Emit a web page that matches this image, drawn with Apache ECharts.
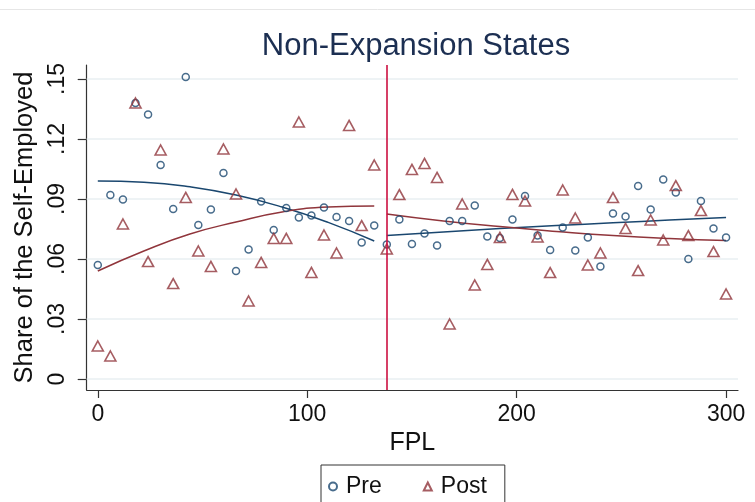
<!DOCTYPE html>
<html>
<head>
<meta charset="utf-8">
<script src="https://cdn.jsdelivr.net/npm/echarts@6/dist/echarts.min.js"></script>
<style>
  html, body { margin: 0; padding: 0; background: #ffffff; }
  #chart { width: 755px; height: 502px; }
</style>
</head>
<body>
<div id="chart"></div>
<script>
// FPL bins (percent of federal poverty level)
const fplBins = [0, 6, 12, 18, 24, 30, 36, 42, 48, 54, 60, 66, 72, 78, 84, 90, 96, 102, 108, 114,
  120, 126, 132, 138, 144, 150, 156, 162, 168, 174, 180, 186, 192, 198, 204, 210, 216, 222, 228,
  234, 240, 246, 252, 258, 264, 270, 276, 282, 288, 294, 300];

// Share of the self-employed, before expansion
const preShare = [0.057, 0.092, 0.0898, 0.138, 0.1323, 0.107, 0.085, 0.151, 0.077, 0.0847,
  0.103, 0.054, 0.0648, 0.0887, 0.0745, 0.0855, 0.0807, 0.0818, 0.0857, 0.081,
  0.079, 0.0683, 0.0767, 0.0673, 0.0797, 0.0675, 0.0728, 0.0667, 0.079, 0.079,
  0.0867, 0.0712, 0.0705, 0.0798, 0.0915, 0.0718, 0.0645, 0.0758, 0.0642, 0.0707,
  0.0562, 0.0828, 0.0812, 0.0965, 0.0848, 0.0997, 0.0932, 0.06, 0.089, 0.0753, 0.0707];

// Share of the self-employed, after expansion
const postShare = [0.0165, 0.0115, 0.0775, 0.138, 0.0587, 0.1145, 0.0477, 0.0908, 0.064, 0.0563,
  0.115, 0.0925, 0.039, 0.0583, 0.0703, 0.0703, 0.1285, 0.0533, 0.072, 0.063,
  0.1268, 0.0767, 0.107, 0.065, 0.0922, 0.1048, 0.1078, 0.1008, 0.0275, 0.0875,
  0.047, 0.0573, 0.0708, 0.0923, 0.089, 0.071, 0.0532, 0.0945, 0.0805, 0.057,
  0.063, 0.0907, 0.0753, 0.0542, 0.0795, 0.0695, 0.0967, 0.0717, 0.0842, 0.0637, 0.0425];

// Quadratic fit curves, sampled on each side of the 138% cutoff
const fitXLeft = [0, 22, 44, 66, 88, 110, 132];
const preFitLeft = [0.099, 0.0984, 0.0961, 0.092, 0.086, 0.0783, 0.069];
const postFitLeft = [0.054, 0.064, 0.0725, 0.0785, 0.0835, 0.086, 0.0865];
const fitXRight = [138, 165, 192, 219, 246, 273, 300];
const preFitRight = [0.0717, 0.0735, 0.0752, 0.0767, 0.0781, 0.0795, 0.0808];
const postFitRight = [0.0825, 0.079, 0.0762, 0.0738, 0.0717, 0.0702, 0.0692];

const cutoff = 138;
const xTicks = [0, 100, 200, 300];
const yTicks = [0, 0.03, 0.06, 0.09, 0.12, 0.15];

const BLUE = '#1a476f';
const MAROON = '#90353b';
const FONT = '"Liberation Sans", Arial, Helvetica, sans-serif';

const pairs = (xs, ys) => xs.map((x, i) => [x, ys[i]]);
const fmtY = v => (v === 0 ? '0' : v.toFixed(2).replace(/^0/, ''));

const chart = echarts.init(document.getElementById('chart'), null, { renderer: 'canvas' });

chart.setOption({
  backgroundColor: '#ffffff',
  animation: false,
  textStyle: { fontFamily: FONT },
  title: {
    text: 'Non-Expansion States',
    left: 411,
    textAlign: 'center',
    top: 26,
    textStyle: { fontFamily: FONT, fontSize: 31, fontWeight: 'normal', color: '#1c2f52' }
  },
  graphic: [{
    type: 'line',
    shape: { x1: 0, y1: 9.5, x2: 755, y2: 9.5 },
    style: { stroke: '#e6e6e6', lineWidth: 1 },
    silent: true
  }],
  legend: {
    data: ['Pre', 'Post'],
    left: 321,
    top: 465,
    orient: 'horizontal',
    padding: [10, 18, 14, 7],
    itemWidth: 8,
    itemHeight: 8,
    itemGap: 41,
    borderColor: '#333333',
    borderWidth: 1,
    textStyle: { fontFamily: FONT, fontSize: 23, color: '#111111', padding: [0, 0, 0, 4] }
  },
  grid: { left: 86.7, right: 17, top: 65, bottom: 112, containLabel: false },
  xAxis: {
    type: 'value',
    min: -5.3,
    max: 305.7,
    name: 'FPL',
    nameLocation: 'middle',
    nameGap: 37,
    nameTextStyle: { fontFamily: FONT, fontSize: 25, color: '#111111' },
    axisLine: { show: true, onZero: false, lineStyle: { color: '#333333', width: 1.2 } },
    axisTick: { show: true, length: 8, customValues: xTicks, lineStyle: { color: '#333333', width: 1.2 } },
    axisLabel: { customValues: xTicks, fontFamily: FONT, fontSize: 23, color: '#111111', margin: 13 },
    splitLine: { show: false }
  },
  yAxis: {
    type: 'value',
    min: -0.0055,
    max: 0.157,
    name: 'Share of the Self-Employed',
    nameLocation: 'middle',
    nameGap: 47,
    nameTextStyle: { fontFamily: FONT, fontSize: 25.5, color: '#111111' },
    axisLine: { show: true, onZero: false, lineStyle: { color: '#333333', width: 1.2 } },
    axisTick: { show: true, length: 9, customValues: yTicks, lineStyle: { color: '#333333', width: 1.2 } },
    axisLabel: {
      customValues: yTicks,
      rotate: 90,
      fontFamily: FONT,
      fontSize: 23,
      color: '#111111',
      margin: 18,
      formatter: fmtY
    },
    splitLine: { show: false }
  },
  series: [
    {
      // horizontal gridlines at each y tick
      name: 'guides',
      type: 'line',
      data: [],
      silent: true,
      markLine: {
        silent: true,
        symbol: 'none',
        z: 1,
        label: { show: false },
        lineStyle: { type: 'solid', color: '#e8eff2', width: 1.6 },
        data: yTicks.map(v => ({ yAxis: v }))
      }
    },
    {
      name: 'Pre',
      type: 'scatter',
      symbol: 'circle',
      symbolSize: 7,
      z: 4,
      itemStyle: { color: 'rgba(255,255,255,0)', borderColor: BLUE, borderWidth: 1.5 },
      data: pairs(fplBins, preShare)
    },
    {
      name: 'Post',
      type: 'scatter',
      symbol: 'triangle',
      symbolSize: [11, 10],
      z: 4,
      itemStyle: { color: 'rgba(255,255,255,0)', borderColor: MAROON, borderWidth: 1.6 },
      data: pairs(fplBins, postShare)
    },
    {
      name: 'preFitLeft',
      type: 'line',
      smooth: true,
      showSymbol: false,
      z: 3,
      lineStyle: { color: BLUE, width: 1.5 },
      data: pairs(fitXLeft, preFitLeft)
    },
    {
      name: 'postFitLeft',
      type: 'line',
      smooth: true,
      showSymbol: false,
      z: 3,
      lineStyle: { color: MAROON, width: 1.5 },
      data: pairs(fitXLeft, postFitLeft)
    },
    {
      name: 'preFitRight',
      type: 'line',
      smooth: true,
      showSymbol: false,
      z: 3,
      lineStyle: { color: BLUE, width: 1.5 },
      data: pairs(fitXRight, preFitRight)
    },
    {
      name: 'postFitRight',
      type: 'line',
      smooth: true,
      showSymbol: false,
      z: 3,
      lineStyle: { color: MAROON, width: 1.5 },
      data: pairs(fitXRight, postFitRight),
      markLine: {
        // vertical line at the 138% FPL cutoff
        silent: true,
        symbol: 'none',
        z: 5,
        label: { show: false },
        lineStyle: { type: 'solid', color: '#cc1040', width: 1.6 },
        data: [{ xAxis: cutoff }]
      }
    }
  ]
});
</script>
</body>
</html>
